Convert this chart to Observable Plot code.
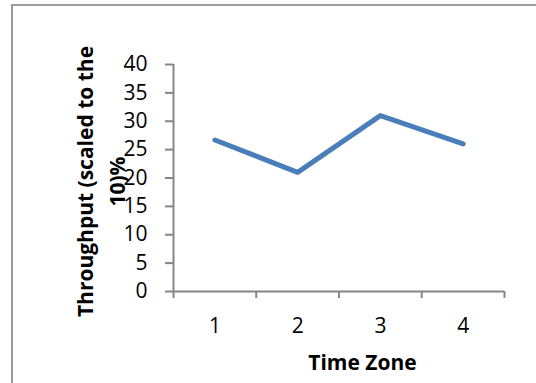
<!DOCTYPE html>
<html>
<head>
<meta charset="utf-8">
<script src="https://cdn.jsdelivr.net/npm/d3@7"></script>
<script src="https://cdn.jsdelivr.net/npm/@observablehq/plot@0.6"></script>
<style>
  html, body { margin: 0; padding: 0; background: #fff; overflow: hidden; }
  #wrap { position: relative; width: 536px; height: 383px; overflow: hidden; }
  #border { position: absolute; left: 11px; top: 4px; width: 560px; height: 420px; border: 2px solid #9d9d9d; box-sizing: border-box; pointer-events: none; }
  svg { display: block; }
</style>
</head>
<body>
<div id="wrap"><div id="border"></div></div>
<script>
const zones = [1, 2, 3, 4];
const throughput = [26.7, 21, 31, 26];
const yTicks = [0, 5, 10, 15, 20, 25, 30, 35, 40];
const xBoundaries = [0.5, 1.5, 2.5, 3.5, 4.5];
const xTitle = "Time Zone";
const yTitleLines = ["Throughput (scaled to the", "10)%"];

const data = zones.map((z, i) => ({zone: z, value: throughput[i]}));
const axisColor = "#868686";
const font = "'Open Sans', sans-serif";

const chart = Plot.plot({
  width: 536,
  height: 383,
  marginTop: 64,
  marginBottom: 92,
  marginLeft: 173,
  marginRight: 32,
  style: {fontFamily: font, fontSize: "21px", color: "#000", background: "transparent"},
  x: {type: "linear", domain: [0.5, 4.5]},
  y: {domain: [0, 40]},
  marks: [
    Plot.axisY({ticks: yTicks, tickSize: 8, tickPadding: 18, fontSize: 21, label: null, stroke: axisColor, strokeWidth: 2, strokeOpacity: 1, color: "#000"}),
    Plot.axisX({ticks: xBoundaries, tickSize: 7, tickFormat: () => "", label: null, stroke: axisColor, strokeWidth: 2, strokeOpacity: 1}),
    Plot.ruleX([0.5], {stroke: axisColor, strokeWidth: 2}),
    Plot.ruleY([0], {stroke: axisColor, strokeWidth: 2}),
    Plot.text(zones, {x: d => d, y: () => 0, text: d => String(d), dy: 41, lineAnchor: "bottom", fontSize: 21, fill: "#000"}),
    Plot.line(data, {x: "zone", y: "value", stroke: "#4a7ebb", strokeWidth: 5, strokeLinecap: "round", strokeLinejoin: "round"}),
    Plot.text([xTitle], {frameAnchor: "bottom", text: d => d, dx: 23.5, dy: 78, lineAnchor: "bottom", fontSize: 21, fontWeight: "bold", fill: "#000"}),
    Plot.text([yTitleLines[0]], {frameAnchor: "middle", text: d => d, rotate: -90, dx: -246.5, dy: 3.5, lineAnchor: "bottom", fontSize: 21, fontWeight: "bold", fill: "#000"}),
    Plot.text([yTitleLines[1]], {frameAnchor: "middle", text: d => d, rotate: -90, dx: -214.5, dy: 3.5, lineAnchor: "bottom", fontSize: 21, fontWeight: "bold", fill: "#000"})
  ]
});
document.getElementById("wrap").prepend(chart);
</script>
</body>
</html>
